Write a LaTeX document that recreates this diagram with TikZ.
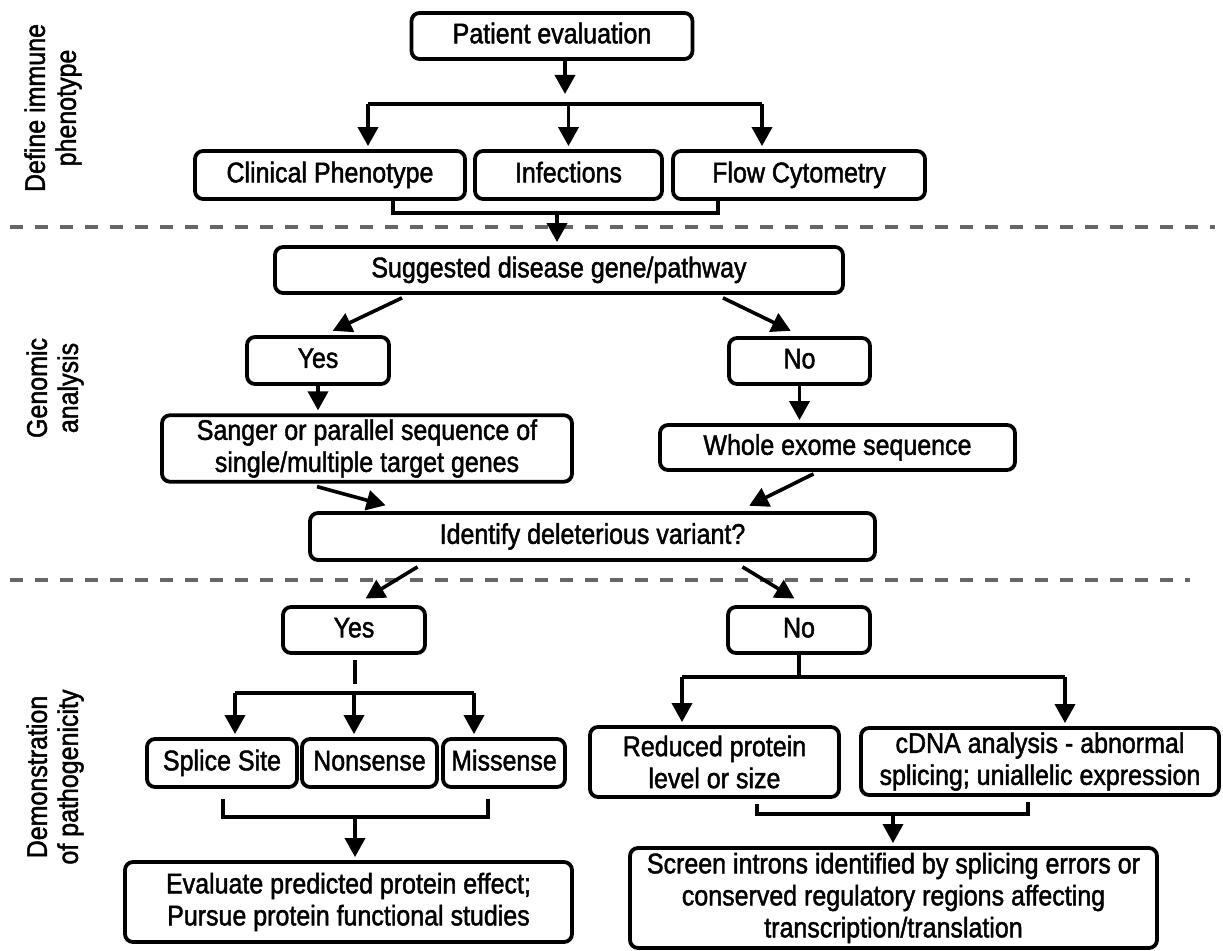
\documentclass[tikz,border=0pt]{standalone}
\usepackage{fontspec}
\setmainfont[FakeStretch=0.88,FakeBold=1.6]{Liberation Sans}
\usetikzlibrary{arrows.meta,calc}

\begin{document}
\begin{tikzpicture}[x=0.5pt, y=-0.5pt,
  box/.style={draw=black, line width=1.9pt, rounded corners=4pt, align=center, inner sep=2pt, font=\fontsize{14.2}{16}\selectfont},
  onebox/.style={box, text height=10.2pt, text depth=2.9pt},
  link/.style={draw=black, line width=1.8pt},
  arr/.style={link, shorten >=1.5pt, -{Triangle[width=10pt,length=9.5pt]}},
  divider/.style={draw=black!60, line width=1.6pt, dash pattern=on 6.5pt off 6pt},
  phase/.style={rotate=90, align=center, font=\fontsize{14.2}{15.5}\selectfont}]
\useasboundingbox (0,0) rectangle (1223,951);
\node[phase] (lab1) at (53,108) {Define immune\\phenotype};
\node[phase] (lab2) at (55,388) {Genomic\\analysis};
\node[phase] (lab3) at (55,777) {Demonstration\\of pathogenicity};
\draw[divider] (10,227) -- (1215,227);
\draw[divider] (10,580) -- (1190,580);
\node[onebox, minimum width=140.5pt, minimum height=23pt] (pe) at (552,36) {Patient evaluation};
\node[onebox, minimum width=135pt, minimum height=24pt] (clin) at (330,175) {Clinical Phenotype};
\node[onebox, minimum width=93.5pt, minimum height=24pt] (inf) at (568.5,175) {Infections};
\node[onebox, minimum width=126pt, minimum height=24pt] (flow) at (799,175) {Flow Cytometry};
\node[onebox, minimum width=284pt, minimum height=23pt] (sugg) at (559,270) {Suggested disease gene/pathway};
\node[onebox, minimum width=71pt, minimum height=23.5pt] (yesA) at (318,360.5) {Yes};
\node[onebox, minimum width=70.5pt, minimum height=23pt] (noA) at (799.5,361) {No};
\node[box, minimum width=205pt, minimum height=31.5pt] (sanger) at (367,448.5) {Sanger or parallel sequence of\\single/multiple target genes};
\node[onebox, minimum width=177.5pt, minimum height=22.5pt] (wes) at (837.5,447.5) {Whole exome sequence};
\node[onebox, minimum width=282.5pt, minimum height=23.5pt] (ident) at (592.5,536.5) {Identify deleterious variant?};
\node[onebox, minimum width=71pt, minimum height=23pt] (yesB) at (354,630) {Yes};
\node[onebox, minimum width=71pt, minimum height=23pt] (noB) at (799,630) {No};
\node[onebox, minimum width=75pt, minimum height=24pt] (splice) at (222,763) {Splice Site};
\node[onebox, minimum width=67.5pt, minimum height=24pt] (nons) at (369.5,763) {Nonsense};
\node[onebox, minimum width=61pt, minimum height=24pt, inner sep=1pt] (miss) at (504,763) {Missense};
\node[box, minimum width=223.5pt, minimum height=40pt] (eval) at (348.5,902) {Evaluate predicted protein effect;\\Pursue protein functional studies};
\node[box, minimum width=124.5pt, minimum height=35pt] (reduced) at (714.5,762) {Reduced protein\\level or size};
\node[box, minimum width=179pt, minimum height=33.5pt, inner sep=1pt] (cdna) at (1040,761.5) {cDNA analysis - abnormal\\splicing; uniallelic expression};
\node[box, minimum width=263.5pt, minimum height=50pt, inner sep=1pt] (screen) at (893.5,898) {Screen introns identified by splicing errors or\\conserved regulatory regions affecting\\transcription/translation};
\coordinate (peTip) at (565,97);
\draw[arr] (pe.south -| peTip) -- (peTip);
\coordinate (busAL) at (368,104);
\coordinate (busAR) at (762,104);
\draw[link] (busAL) -- (busAR);
\draw[arr] (busAL) -- (busAL |- clin.north);
\draw[arr] (busAL -| inf) -- (inf.north);
\draw[arr] (busAR) -- (busAR |- flow.north);
\draw[link] ($(clin.south)+(63,0)$) -- ++(0,12) -| ($(flow.south)+(-81,0)$);
\coordinate (joinA) at (557,211);
\draw[arr] (joinA) -- (joinA |- sugg.north);
\draw[arr] ($(sugg.south)+(-157,3)$) -- ($(yesA.north)+(12,-3)$);
\draw[arr] ($(sugg.south)+(164,3)$) -- ($(noA.north)+(-6,-4)$);
\draw[arr] (yesA.south) -- (yesA.south |- sanger.north);
\draw[arr] (noA.south) -- (noA.south |- wes.north);
\draw[arr] ($(sanger.south)+(-50,3)$) -- ($(ident.north)+(-204,-5)$);
\draw[arr] ($(wes.south)+(-24,2)$) -- ($(ident.north)+(154,-4)$);
\draw[arr] ($(ident.south)+(-175,5)$) -- ($(yesB.north)+(9,-5)$);
\draw[arr] ($(ident.south)+(150,5)$) -- ($(noB.north)+(-2,-5)$);
\draw[link] ($(yesB.south)+(1,5)$) -- ++(0,24);
\coordinate (busBL) at (235,693);
\coordinate (busBR) at (474,693);
\draw[link] (busBL) -- (busBR);
\draw[arr] (busBL) -- (busBL |- splice.north);
\draw[arr] (busBL -| yesB) -- (yesB |- nons.north);
\draw[arr] (busBR) -- (busBR |- miss.north);
\draw[link] ($(splice.south)+(1,10)$) -- ++(0,18) -| ($(miss.south)+(-16,10)$);
\coordinate (joinB) at (355,815);
\draw[arr] (joinB) -- (joinB |- eval.north);
\coordinate (busCL) at (682,677);
\coordinate (busCR) at (1065,677);
\draw[link] (noB.south) -- (noB.south |- busCL);
\draw[link] (busCL) -- (busCR);
\draw[arr] (busCL) -- (busCL |- reduced.north);
\draw[arr] (busCR) -- (busCR |- cdna.north);
\draw[link] ($(reduced.south)+(42.5,5)$) -- ++(0,10) -| ($(cdna.south)+(-12,5)$);
\coordinate (joinC) at (893,812);
\draw[arr] (joinC) -- (joinC |- screen.north);
\end{tikzpicture}
\end{document}
